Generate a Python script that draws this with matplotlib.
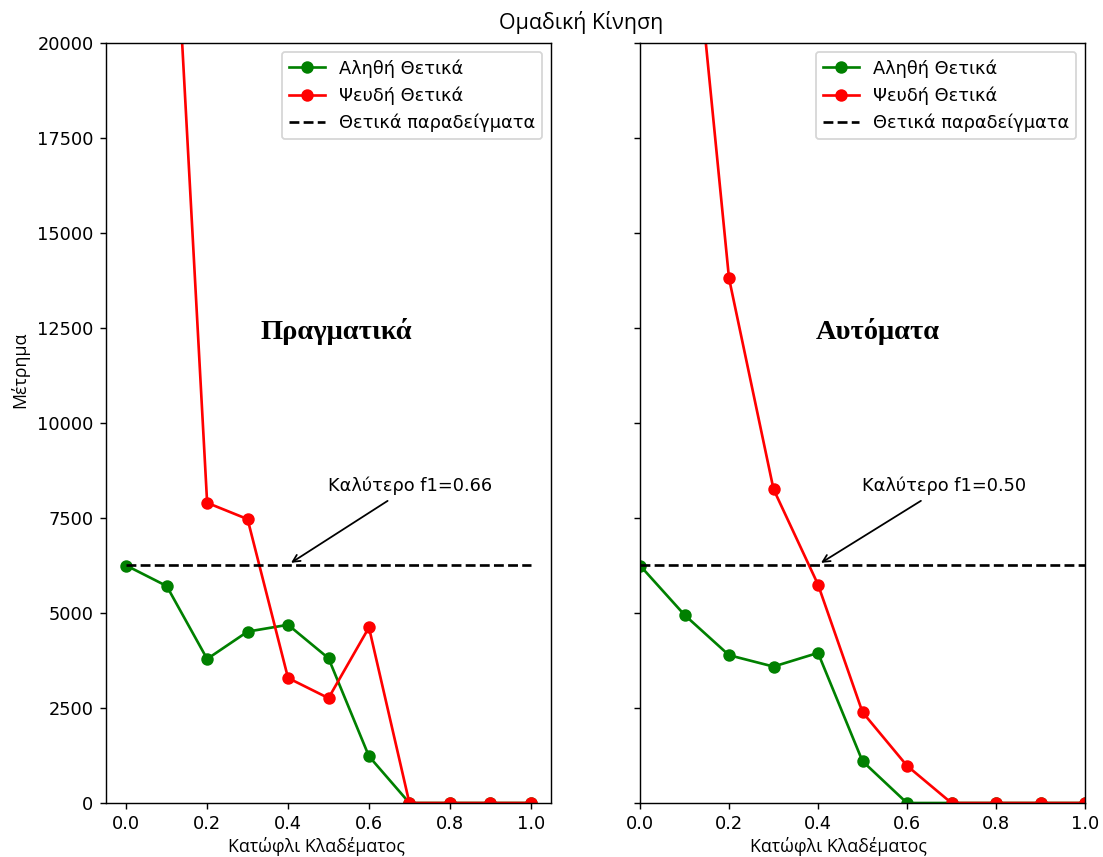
import matplotlib.pyplot as plt

thresholds = [0.0, 0.1, 0.2, 0.3, 0.4, 0.5, 0.6, 0.7, 0.8, 0.9, 1.0]
positives = 6270

# manual (left) panel
tp_manual = [6250, 5710, 3790, 4510, 4690, 3810, 1230, 0, 0, 0, 0]
fp_manual = [60000, 27500, 7900, 7470, 3290, 2760, 4620, 0, 0, 0, 0]
best_manual = "Καλύτερο f1=0.66"

# automatic (right) panel
tp_auto = [6250, 4950, 3890, 3590, 3950, 1100, 0, 0, 0, 0, 0]
fp_auto = [45000, 25700, 13810, 8260, 5750, 2390, 980, 0, 0, 0, 0]
best_auto = "Καλύτερο f1=0.50"

W, H = 1103, 857
DPI = 128
fig = plt.figure(figsize=(W / DPI, H / DPI), dpi=DPI)
ax1 = fig.add_axes([106 / W, 54 / H, 445 / W, 760 / H])
ax2 = fig.add_axes([640 / W, 54 / H, 445 / W, 760 / H], sharey=ax1)


def panel(ax, tp, fp, best, name, name_x):
    ax.plot(thresholds, tp, "o-", color="green", label="Αληθή Θετικά")
    ax.plot(thresholds, fp, "o-", color="red", label="Ψευδή Θετικά")
    ax.plot([thresholds[0], thresholds[-1]], [positives, positives], "--",
            color="black", label="Θετικά παραδείγματα")
    ax.annotate(best, xy=(0.4, positives), xytext=(0.5, 8200),
                arrowprops=dict(arrowstyle="->", color="black"))
    ax.text(name_x, 12400, name, ha="center", va="center", fontsize=16,
            fontweight="bold", family="Liberation Serif")
    ax.legend(loc="upper right")
    ax.set_ylim(0, 20000)


panel(ax1, tp_manual, fp_manual, best_manual, "Πραγματικά", 0.52)
panel(ax2, tp_auto, fp_auto, best_auto, "Αυτόματα", 0.535)

ax1.set_xlim(-0.05, 1.05)
ax2.set_xlim(0, 1)
ax2.tick_params(labelleft=False)

ax1.set_xlabel("Κατώφλι Κλαδέματος", family="Open Sans")
ax2.set_xlabel("Κατώφλι Κλαδέματος", family="Open Sans")
ax1.xaxis.set_label_coords(0.472, -0.045)
ax2.xaxis.set_label_coords(0.445, -0.045)
ax1.set_ylabel("Μέτρημα", family="Open Sans")
ax1.yaxis.set_label_coords(-0.173, 0.57)

fig.suptitle("Ομαδική Κίνηση", x=581 / W, y=1 - 22 / H, va="center",
             family="Open Sans", fontsize=12)

fig.savefig("out.png", dpi=DPI)
